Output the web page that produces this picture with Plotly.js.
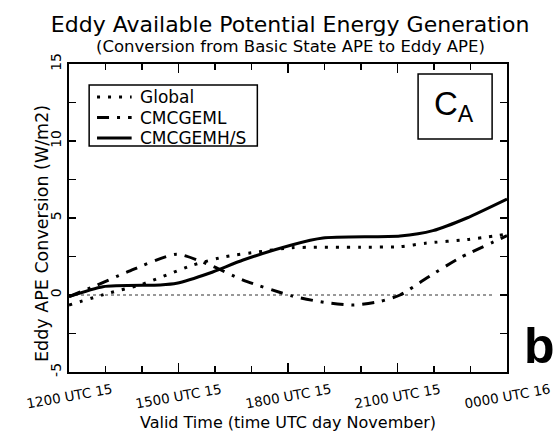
<!DOCTYPE html>
<html>
<head>
<meta charset="utf-8">
<script src="https://cdn.plot.ly/plotly-3.0.1.min.js"></script>
<style>
  html, body { margin: 0; padding: 0; background: #fff; }
  #chart { width: 560px; height: 432px; }
</style>
</head>
<body>
<div id="chart"></div>
<script>
// Hours after 1200 UTC 15 November
const globalHours = [0, 1.1, 1.95, 3.4, 4.3, 5.2, 6.1, 8.0, 9.07, 9.8, 10.9, 12];
const globalValues = [-0.65, 0.13, 0.65, 1.95, 2.5, 2.8, 3.07, 3.1, 3.14, 3.37, 3.6, 3.95];

const mlHours = [0, 0.67, 1.6, 2.95, 3.86, 4.77, 6.1, 7.05, 7.8, 8.5, 9.07, 9.8, 10.7, 12];
const mlValues = [-0.1, 0.54, 1.5, 2.65, 1.95, 0.97, -0.06, -0.5, -0.65, -0.43, 0.0, 1.1, 2.4, 3.85];

const hsHours = [0, 0.93, 2.5, 2.95, 3.86, 4.77, 6.1, 6.96, 9.07, 9.97, 10.9, 12];
const hsValues = [-0.1, 0.54, 0.65, 0.76, 1.43, 2.27, 3.25, 3.7, 3.83, 4.18, 5.0, 6.23];

const seriesNames = ['Global', 'CMCGEML', 'CMCGEMH/S'];

const xTickVals = [0, 3, 6, 9, 12];
const xTickText = ['1200 UTC 15', '1500 UTC 15', '1800 UTC 15', '2100 UTC 15', '0000 UTC 16'];
const yTickVals = [-5, 0, 5, 10, 15];
const yTickText = ['-5', '0', '5', '10', '15'];

const FONT = 'DejaVu Sans, Liberation Sans, sans-serif';
const DASHES = ['3px,8px', '12px,8px,3px,8px', 'solid'];

const seriesX = [globalHours, mlHours, hsHours];
const seriesY = [globalValues, mlValues, hsValues];

const traces = seriesNames.map((name, i) => ({
  x: seriesX[i], y: seriesY[i], name: name, mode: 'lines', showlegend: false,
  line: { color: '#000', width: 3, dash: DASHES[i], shape: 'spline', smoothing: 0.6 }
}));

// Boxed key in the upper-left corner of the plot (paper coordinates)
const KEY = { x0: 0.046, x1: 0.43, y0: 0.734, y1: 0.932 };
const keyRows = [0.893, 0.826, 0.76];
const keyShapes = [
  { type: 'rect', xref: 'paper', yref: 'paper', x0: KEY.x0, x1: KEY.x1, y0: KEY.y0, y1: KEY.y1,
    line: { color: '#000', width: 1.5 }, fillcolor: '#fff' }
].concat(seriesNames.map((n, i) => ({
  type: 'line', xref: 'paper', yref: 'paper', x0: 0.064, x1: 0.143, y0: keyRows[i], y1: keyRows[i],
  line: { color: '#000', width: 3, dash: DASHES[i] }
})));
const keyLabels = seriesNames.map((n, i) => ({
  text: n, xref: 'paper', yref: 'paper', x: 0.158, y: keyRows[i],
  xanchor: 'left', yanchor: 'middle', showarrow: false,
  font: { family: FONT, size: 17, color: '#000' }
}));

// Slanted time labels, centred under each major tick
const tickLabels = xTickVals.map((v, i) => ({
  text: xTickText[i], xref: 'x', yref: 'paper', x: v, y: -0.078,
  xanchor: 'center', yanchor: 'middle', showarrow: false, textangle: -10,
  font: { family: FONT, size: 13.5, color: '#000' }
}));

const layout = {
  width: 560, height: 432,
  margin: { l: 69, r: 53, t: 64, b: 60 },
  paper_bgcolor: '#fff', plot_bgcolor: '#fff',
  font: { family: FONT, color: '#000', size: 14 },
  showlegend: false,
  title: {
    text: 'Eddy Available Potential Energy Generation',
    font: { family: FONT, size: 22, color: '#000' },
    xref: 'container', yref: 'container',
    x: 0.518, xanchor: 'center', y: 0.944, yanchor: 'middle'
  },
  xaxis: {
    range: [0, 12], tickvals: xTickVals, showticklabels: false,
    ticks: 'inside', ticklen: 9, tickwidth: 1.5, tickcolor: '#000',
    minor: { dtick: 1, ticks: 'inside', ticklen: 6, tickwidth: 1.5, tickcolor: '#000' },
    showline: true, linecolor: '#000', linewidth: 2, mirror: 'allticks',
    showgrid: false, zeroline: false,
    title: { text: 'Valid Time (time UTC day November)', font: { family: FONT, size: 16 }, standoff: 46 }
  },
  yaxis: {
    range: [-5, 15], tickvals: yTickVals, ticktext: yTickText, tickangle: -90,
    ticks: 'inside', ticklen: 7, tickwidth: 1.5, tickcolor: '#000',
    minor: { dtick: 2.5, ticks: 'inside', ticklen: 7, tickwidth: 1.5, tickcolor: '#000' },
    showline: true, linecolor: '#000', linewidth: 2, mirror: 'allticks',
    showgrid: false, zeroline: false,
    tickfont: { family: FONT, size: 14 }
  },
  shapes: [
    { type: 'line', xref: 'paper', x0: 0, x1: 0.97, yref: 'y', y0: 0, y1: 0,
      line: { color: '#333', width: 1, dash: 'dot' }, layer: 'below' },
    { type: 'rect', xref: 'paper', yref: 'paper', x0: 0.797, x1: 0.966, y0: 0.7565, y1: 0.9675,
      line: { color: '#000', width: 1.5 }, fillcolor: '#fff' }
  ].concat(keyShapes),
  annotations: [
    { text: '(Conversion from Basic State APE to Eddy APE)', xref: 'paper', yref: 'paper',
      x: 0.505, y: 1.058, xanchor: 'center', yanchor: 'middle', showarrow: false,
      font: { family: FONT, size: 16.5, color: '#000' } },
    { text: 'Eddy APE Conversion (W/m2)', xref: 'paper', yref: 'paper',
      x: -0.062, y: 0.451, xanchor: 'center', yanchor: 'middle', showarrow: false, textangle: -90,
      font: { family: FONT, size: 17.5, color: '#000' } },
    { text: 'C<sub>A</sub>', xref: 'paper', yref: 'paper', x: 0.88, y: 0.865,
      xanchor: 'center', yanchor: 'middle', showarrow: false,
      font: { family: 'Liberation Sans, Arial, sans-serif', size: 33, color: '#000' } },
    { text: '<b>b</b>', xref: 'paper', yref: 'paper', x: 1.075, y: 0.085,
      xanchor: 'center', yanchor: 'middle', showarrow: false,
      font: { family: 'Liberation Sans, Arial, sans-serif', size: 50, color: '#000' } }
  ].concat(tickLabels, keyLabels)
};

Plotly.newPlot('chart', traces, layout, { displayModeBar: false, staticPlot: true });
</script>
</body>
</html>
